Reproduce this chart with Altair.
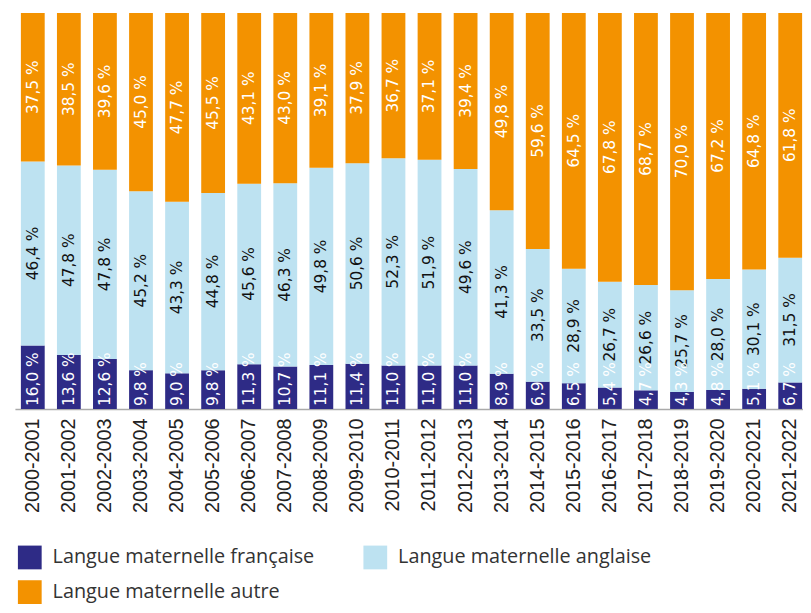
import altair as alt
import pandas as pd

years = ["2000-2001", "2001-2002", "2002-2003", "2003-2004", "2004-2005", "2005-2006",
         "2006-2007", "2007-2008", "2008-2009", "2009-2010", "2010-2011", "2011-2012",
         "2012-2013", "2013-2014", "2014-2015", "2015-2016", "2016-2017", "2017-2018",
         "2018-2019", "2019-2020", "2020-2021", "2021-2022"]
francaise = [16.0, 13.6, 12.6, 9.8, 9.0, 9.8, 11.3, 10.7, 11.1, 11.4, 11.0, 11.0,
             11.0, 8.9, 6.9, 6.5, 5.4, 4.7, 4.3, 4.8, 5.1, 6.7]
anglaise = [46.4, 47.8, 47.8, 45.2, 43.3, 44.8, 45.6, 46.3, 49.8, 50.6, 52.3, 51.9,
            49.6, 41.3, 33.5, 28.9, 26.7, 26.6, 25.7, 28.0, 30.1, 31.5]
autre = [37.5, 38.5, 39.6, 45.0, 47.7, 45.5, 43.1, 43.0, 39.1, 37.9, 36.7, 37.1,
         39.4, 49.8, 59.6, 64.5, 67.8, 68.7, 70.0, 67.2, 64.8, 61.8]

series = ["Langue maternelle française", "Langue maternelle anglaise", "Langue maternelle autre"]
colors = ["#2e2b86", "#bde2f1", "#f39200"]

rows = []
for i, y in enumerate(years):
    vals = [francaise[i], anglaise[i], autre[i]]
    tot = sum(vals)
    cum = 0.0
    for k, v in enumerate(vals):
        lo = cum / tot
        cum += v
        hi = cum / tot
        rows.append({
            "annee": y, "serie": series[k], "ordre": k, "valeur": v,
            "lo": lo, "hi": hi, "mid": (lo + hi) / 2,
            "label": f"{v:.1f}".replace(".", ",") + " %",
        })
df = pd.DataFrame(rows)

xscale = alt.Scale(domain=years, paddingInner=0.34, paddingOuter=0.095, align=0.87)
yscale = alt.Scale(domain=[0, 1])

x = alt.X("annee:N", scale=xscale, sort=years, title=None,
          axis=alt.Axis(labelAngle=-90, ticks=False, labelPadding=9, labelFont="Liberation Sans",
                        labelFontSize=20, labelColor="#222222", domainColor="#aaaaaa",
                        domainWidth=1.5, labelOverlap=False))

bars = alt.Chart(df).mark_bar().encode(
    x=x,
    y=alt.Y("lo:Q", scale=yscale, axis=None),
    y2="hi:Q",
    color=alt.Color("serie:N", scale=alt.Scale(domain=series, range=colors),
                    legend=alt.Legend(title=None, orient="none", legendX=3, legendY=538,
                                      columns=2, direction="horizontal", symbolType="square",
                                      symbolSize=576, symbolStrokeWidth=0, labelFont="Open Sans",
                                      labelFontSize=20, labelColor="#333333", labelOffset=11,
                                      rowPadding=11, columnPadding=49, padding=0,
                                      labelLimit=400)),
)

text_mid = alt.Chart(df[df["ordre"] > 0]).mark_text(
    angle=270, align="center", baseline="middle", font="DejaVu Sans", fontSize=15.5
).encode(
    x=alt.X("annee:N", scale=xscale, sort=years),
    y=alt.Y("mid:Q", scale=yscale),
    text="label:N",
    color=alt.Color("ordre:N", scale=alt.Scale(domain=[1, 2], range=["#111111", "#ffffff"]),
                    legend=None),
)

text_fr = alt.Chart(df[df["ordre"] == 0]).mark_text(
    angle=270, align="left", baseline="middle", font="DejaVu Sans", fontSize=15.5,
    color="#ffffff", dx=3
).encode(
    x=alt.X("annee:N", scale=xscale, sort=years),
    y=alt.Y("lo:Q", scale=yscale),
    text="label:N",
)

chart = alt.layer(bars, text_mid, text_fr).resolve_scale(color="independent").properties(
    width=796, height=400,
    autosize=alt.AutoSizeParams(type="none"),
    padding={"left": 7, "top": 2, "right": 0, "bottom": 194},
).configure_view(stroke=None)

chart.save("out.html", embed_options={"renderer": "svg", "actions": False})
